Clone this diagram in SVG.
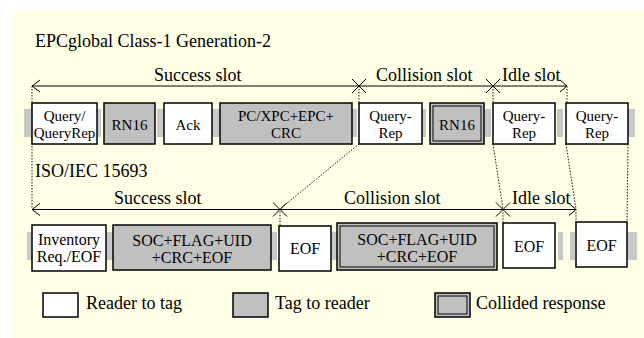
<svg xmlns="http://www.w3.org/2000/svg" width="644" height="338" viewBox="0 0 644 338" font-family="'Liberation Serif', 'Times New Roman', 'DejaVu Serif', serif">
<defs>
<style>
text{fill:#000}
.t{font-size:18px}
.b{font-size:15px;text-anchor:middle}
.bl{font-size:16px;text-anchor:middle}
.w{fill:#fff;stroke:#000;stroke-width:1.5}
.g{fill:#c0c0c0;stroke:#000;stroke-width:1.5}
.gi{fill:none;stroke:#000;stroke-width:1}
.s{fill:#c8c8c8}
.ln{stroke:#000;stroke-width:1;fill:none}
.dot{stroke:#000;stroke-width:0.9;fill:none;stroke-dasharray:1.5 1.5}
</style>
</defs>
<rect x="13" y="11" width="631" height="327" fill="#ffffe6"/>
<text class="t" x="35" y="47">EPCglobal Class-1 Generation-2</text>
<text class="t" x="35" y="177">ISO/IEC 15693</text>

<g id="connectors">
<path class="dot" d="M32 86V209"/>
<path class="dot" d="M359 86V103M359 144L280 209V226"/>
<path class="dot" d="M493 86V103M493 144L503 209V223"/>
<path class="dot" d="M567 86V103M566 144L576 209V222"/>
<path class="dot" d="M628 144L627 222"/>
<path class="ln" d="M32 86H567"/>
<path class="ln" d="M40 80L32 86L40 92"/>
<path class="ln" d="M352 79L366 93M352 93L366 79"/>
<path class="ln" d="M486 79L500 93M486 93L500 79"/>
<path class="ln" d="M560 80L567 86L560 92"/>
<path class="ln" d="M32 209.5H576"/>
<path class="ln" d="M40 203.5L32 209.5L40 215.5"/>
<path class="ln" d="M273 202.5L287 216.5M273 216.5L287 202.5"/>
<path class="ln" d="M496 202.5L510 216.5M496 216.5L510 202.5"/>
<path class="ln" d="M569 203.5L576 209.5L569 215.5"/>
</g>

<text class="t" x="154" y="81">Success slot</text>
<text class="t" x="376" y="81">Collision slot</text>
<text class="t" x="502" y="81">Idle slot</text>
<text class="t" x="114" y="204">Success slot</text>
<text class="t" x="344" y="204">Collision slot</text>
<text class="t" x="512" y="204">Idle slot</text>

<g id="strip-top">
<rect class="s" x="24" y="109" width="8" height="28"/>
<rect class="s" x="97" y="109" width="4" height="28"/>
<rect class="s" x="157" y="109" width="7" height="28"/>
<rect class="s" x="212" y="109" width="8" height="28"/>
<rect class="s" x="352" y="109" width="5" height="28"/>
<rect class="s" x="422" y="109" width="4" height="28"/>
<rect class="s" x="483" y="109" width="8" height="28"/>
<rect class="s" x="557" y="109" width="6" height="28"/>
<rect class="s" x="628" y="109" width="7" height="28"/>
</g>
<g id="strip-bottom">
<rect class="s" x="27" y="232" width="5" height="28"/>
<rect class="s" x="106" y="232" width="7" height="28"/>
<rect class="s" x="271" y="232" width="6" height="28"/>
<rect class="s" x="331" y="232" width="6" height="28"/>
<rect class="s" x="558" y="232" width="5" height="28"/>
<rect class="s" x="570" y="232" width="5" height="28"/>
<rect class="s" x="627" y="232" width="10" height="28"/>
</g>

<g id="n-query">
<rect class="w" x="32" y="103" width="65" height="41"/>
<text class="b" x="64.5" y="121">Query/</text>
<text class="b" x="64.5" y="138">QueryRep</text>
</g>
<g id="n-rn16">
<rect class="g" x="104" y="103" width="51" height="41"/>
<text class="b" x="129.5" y="130">RN16</text>
</g>
<g id="n-ack">
<rect class="w" x="164" y="103" width="48" height="41"/>
<text class="b" x="188" y="130">Ack</text>
</g>
<g id="n-pc">
<rect class="g" x="220" y="103" width="132" height="41"/>
<text class="b" x="286" y="121">PC/XPC+EPC+</text>
<text class="b" x="286" y="138">CRC</text>
</g>
<g id="n-qr1">
<rect class="w" x="359" y="103" width="63" height="41"/>
<text class="b" x="390.5" y="121">Query-</text>
<text class="b" x="390.5" y="138">Rep</text>
</g>
<g id="n-rn16c">
<rect class="g" x="430" y="103" width="54" height="41"/>
<rect class="gi" x="433" y="106" width="48" height="35"/>
<text class="b" x="457" y="130">RN16</text>
</g>
<g id="n-qr2">
<rect class="w" x="493" y="103" width="62" height="41"/>
<text class="b" x="524" y="121">Query-</text>
<text class="b" x="524" y="138">Rep</text>
</g>
<g id="n-qr3">
<rect class="w" x="566" y="103" width="62" height="41"/>
<text class="b" x="597" y="121">Query-</text>
<text class="b" x="597" y="138">Rep</text>
</g>

<g id="n-inv">
<rect class="w" x="32" y="225" width="74" height="46"/>
<text class="bl" x="69" y="244.5">Inventory</text>
<text class="bl" x="69" y="262">Req./EOF</text>
</g>
<g id="n-soc1">
<rect class="g" x="113" y="225" width="158" height="45"/>
<text class="bl" x="192" y="245.5">SOC+FLAG+UID</text>
<text class="bl" x="192" y="263">+CRC+EOF</text>
</g>
<g id="n-eof1">
<rect class="w" x="279" y="226" width="52" height="45"/>
<text class="bl" x="305" y="254">EOF</text>
</g>
<g id="n-soc2">
<rect class="g" x="337" y="223" width="160" height="47"/>
<rect class="gi" x="340" y="226" width="154" height="41"/>
<text class="bl" x="417" y="244.5">SOC+FLAG+UID</text>
<text class="bl" x="417" y="262">+CRC+EOF</text>
</g>
<g id="n-eof2">
<rect class="w" x="503" y="223" width="52" height="45"/>
<text class="bl" x="529" y="252">EOF</text>
</g>
<g id="n-eof3">
<rect class="w" x="576" y="222" width="51" height="45"/>
<text class="bl" x="601.5" y="251">EOF</text>
</g>

<g id="legend">
<rect class="w" x="43" y="293" width="35" height="24"/>
<text class="t" x="86" y="309">Reader to tag</text>
<rect class="g" x="233" y="293" width="35" height="24"/>
<text class="t" x="275" y="309">Tag to reader</text>
<rect class="g" x="435" y="293" width="35" height="24"/>
<rect class="gi" x="438" y="296" width="29" height="18"/>
<text class="t" x="476" y="309">Collided response</text>
</g>
</svg>
